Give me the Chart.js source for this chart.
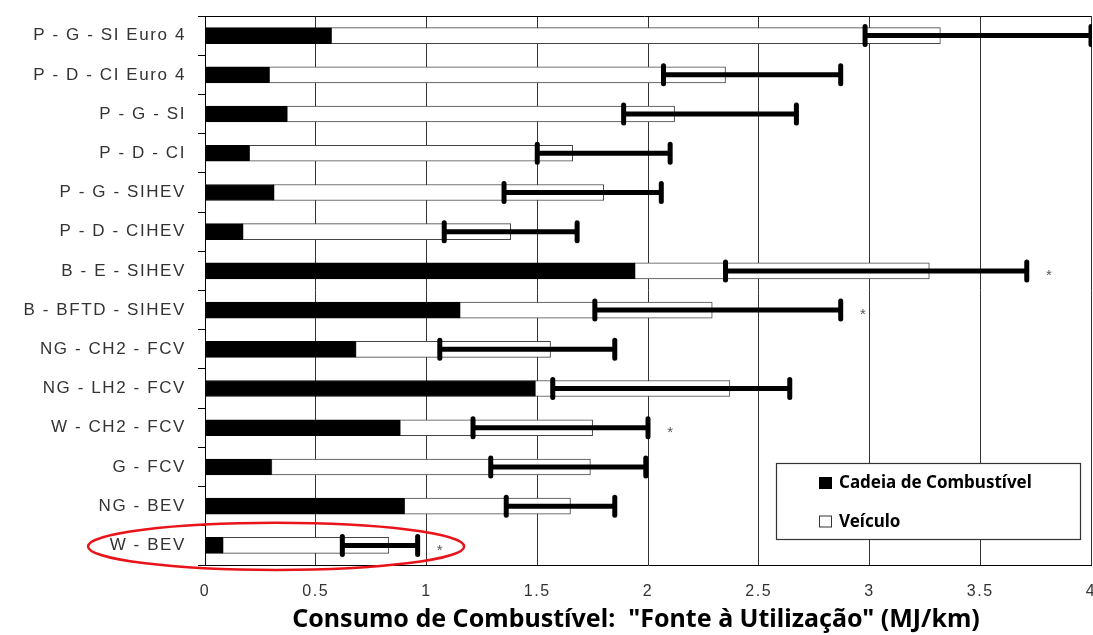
<!DOCTYPE html>
<html>
<head>
<meta charset="utf-8">
<script src="https://cdn.jsdelivr.net/npm/chart.js@4.4.1/dist/chart.umd.min.js"></script>
<style>
  html, body { margin: 0; padding: 0; background: #fff; }
  #wrap { width: 1093px; height: 635px; position: relative; }
</style>
</head>
<body>
<div id="wrap"><canvas id="c" width="1093" height="635"></canvas></div>
<script>
// Well-to-wheel energy use per pathway (MJ/km)
const pathways = [
  'P - G - SI Euro 4', 'P - D - CI Euro 4', 'P - G - SI', 'P - D - CI',
  'P - G - SIHEV', 'P - D - CIHEV', 'B - E - SIHEV', 'B - BFTD - SIHEV',
  'NG - CH2 - FCV', 'NG - LH2 - FCV', 'W - CH2 - FCV', 'G - FCV',
  'NG - BEV', 'W - BEV'
];
const fuelChain = [0.57, 0.29, 0.37, 0.20, 0.31, 0.17, 1.94, 1.15, 0.68, 1.49, 0.88, 0.30, 0.90, 0.08];
const vehicle   = [2.75, 2.06, 1.75, 1.46, 1.49, 1.21, 1.33, 1.14, 0.88, 0.88, 0.87, 1.44, 0.75, 0.75];
const rangeLow  = [2.98, 2.07, 1.89, 1.50, 1.35, 1.08, 2.35, 1.76, 1.06, 1.57, 1.21, 1.29, 1.36, 0.62];
const rangeHigh = [4.00, 2.87, 2.67, 2.10, 2.06, 1.68, 3.71, 2.87, 1.85, 2.64, 2.00, 1.99, 1.85, 0.96];
const starred   = [false, false, false, false, false, false, true, true, false, false, true, false, false, true];
const xTickLabels = ['0', '0.5', '1', '1.5', '2', '2.5', '3', '3.5', '4'];
const seriesNames = ['Cadeia de Combustível', 'Veículo'];
const axisTitle = 'Consumo de Combustível:  "Fonte à Utilização" (MJ/km)';
const highlighted = 'W - BEV';

const labelFont = "'Liberation Sans', Arial, sans-serif";
const noteFont = "'Noto Sans', 'Open Sans', sans-serif";

// Spaced-out glyphs for the axis tick labels
const spacingPlugin = {
  id: 'spacing',
  beforeDraw(chart) { chart.ctx.letterSpacing = '1.6px'; }
};

// Min–max range bars drawn over the stacked totals
const rangePlugin = {
  id: 'ranges',
  afterDatasetsDraw(chart) {
    const { ctx, chartArea: a, scales: { x, y } } = chart;
    ctx.save();
    ctx.beginPath();
    ctx.rect(a.left, a.top - 15, a.right - a.left + 1, a.bottom - a.top + 30);
    ctx.clip();
    ctx.strokeStyle = '#000';
    pathways.forEach((_, i) => {
      const yc = y.getPixelForValue(i);
      const x0 = x.getPixelForValue(rangeLow[i]);
      const x1 = x.getPixelForValue(rangeHigh[i]);
      ctx.lineWidth = 5;
      ctx.lineCap = 'butt';
      ctx.beginPath(); ctx.moveTo(x0, yc); ctx.lineTo(x1, yc); ctx.stroke();
      ctx.lineCap = 'round';
      ctx.lineWidth = 5;
      [x0, x1].forEach(px => {
        ctx.beginPath(); ctx.moveTo(px, yc - 9); ctx.lineTo(px, yc + 9); ctx.stroke();
      });
    });
    ctx.restore();
  }
};

// Frame top, asterisks, highlight ring, legend box and axis title
const decorPlugin = {
  id: 'decor',
  afterDraw(chart) {
    const { ctx, chartArea: a, scales: { x, y } } = chart;
    ctx.save();
    ctx.letterSpacing = '0px';

    // top frame line
    ctx.strokeStyle = '#000';
    ctx.lineWidth = 1;
    ctx.beginPath(); ctx.moveTo(a.left - 7, a.top + 0.5); ctx.lineTo(a.right, a.top + 0.5); ctx.stroke();

    // asterisks
    ctx.fillStyle = '#555';
    ctx.font = "15px " + labelFont;
    ctx.textAlign = 'center';
    ctx.textBaseline = 'middle';
    pathways.forEach((_, i) => {
      if (!starred[i]) return;
      ctx.fillText('*', x.getPixelForValue(rangeHigh[i] + 0.1), y.getPixelForValue(i) + 5);
    });

    // highlight ring around one pathway
    const hi = pathways.indexOf(highlighted);
    const ex0 = x.getPixelForValue(-0.528), ex1 = x.getPixelForValue(1.17);
    const band = (y.getPixelForValue(1) - y.getPixelForValue(0));
    ctx.strokeStyle = '#e8141a';
    ctx.lineWidth = 2.5;
    ctx.beginPath();
    ctx.ellipse((ex0 + ex1) / 2, y.getPixelForValue(hi) + 1, (ex1 - ex0) / 2, band * 0.6, 0, 0, Math.PI * 2);
    ctx.stroke();

    // legend box
    const bx = 776, by = 463, bw = 304, bh = 76;
    ctx.fillStyle = '#fff';
    ctx.fillRect(bx, by, bw, bh);
    ctx.strokeStyle = '#333';
    ctx.lineWidth = 1.2;
    ctx.strokeRect(bx + 0.5, by + 0.5, bw, bh);
    const rows = [482.5, 521];
    const fills = ['#000', '#fff'];
    ctx.font = "bold 17px " + noteFont;
    ctx.textAlign = 'left';
    ctx.textBaseline = 'middle';
    rows.forEach((ry, k) => {
      ctx.fillStyle = fills[k];
      ctx.fillRect(819, ry - 5.5, 12, 11);
      ctx.strokeStyle = k === 0 ? '#000' : '#333';
      ctx.lineWidth = 1;
      ctx.strokeRect(819.5, ry - 5, 12, 11);
      ctx.fillStyle = '#000';
      ctx.fillText(seriesNames[k], 839, ry + 1);
    });

    // horizontal axis title
    ctx.font = "bold 25px " + noteFont;
    ctx.textAlign = 'center';
    ctx.textBaseline = 'middle';
    ctx.fillStyle = '#000';
    ctx.fillText(axisTitle, (a.left + a.right) / 2 - 12, 620);
    ctx.restore();
  }
};

new Chart(document.getElementById('c'), {
  type: 'bar',
  data: {
    labels: pathways,
    datasets: [
      { label: seriesNames[0], data: fuelChain, backgroundColor: '#000', borderColor: '#000',
        borderWidth: 1, borderSkipped: false, barThickness: 16 },
      { label: seriesNames[1], data: vehicle, backgroundColor: '#fff', borderColor: '#444',
        borderWidth: 1, borderSkipped: false, barThickness: 16 }
    ]
  },
  options: {
    responsive: false,
    animation: false,
    indexAxis: 'y',
    layout: { padding: { top: 16, right: 2, left: 0, bottom: 0 } },
    plugins: { legend: { display: false }, tooltip: { enabled: false } },
    scales: {
      x: {
        stacked: true, min: 0, max: 4,
        ticks: { stepSize: 0.5, color: '#333', padding: 17,
                 font: { family: labelFont, size: 16 },
                 callback: (v, i) => xTickLabels[i] },
        grid: { color: '#333', lineWidth: 1, drawTicks: false },
        border: { color: '#000' },
        afterFit(s) { s.height = 70; s.paddingLeft = 0; s.paddingRight = 0; }
      },
      y: {
        stacked: true,
        ticks: { color: '#333', padding: 12, font: { family: labelFont, size: 17 } },
        grid: { drawOnChartArea: false, tickLength: 7, color: '#000' },
        border: { color: '#000' },
        afterFit(s) { s.width = 205; s.paddingTop = 0; s.paddingBottom = 0; }
      }
    }
  },
  plugins: [spacingPlugin, rangePlugin, decorPlugin]
});
</script>
</body>
</html>
